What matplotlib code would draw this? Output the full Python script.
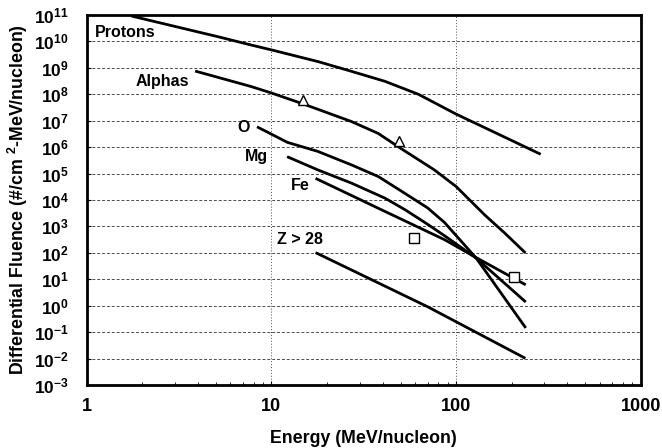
import matplotlib
matplotlib.use("Agg")
import matplotlib.pyplot as plt
import numpy as np

plt.rcParams['font.family'] = ['Liberation Sans', 'DejaVu Sans']
plt.rcParams['font.weight'] = 'bold'
plt.rcParams['mathtext.fontset'] = 'custom'
plt.rcParams['mathtext.rm'] = 'Liberation Sans:bold'
plt.rcParams['mathtext.bf'] = 'Liberation Sans:bold'
plt.rcParams['mathtext.it'] = 'Liberation Sans:bold'

# courbes : log10(energie), log10(fluence)
protons_logE = [0.243, 0.71, 0.887, 1.0, 1.251, 1.433, 1.615, 1.796, 2.0, 2.142, 2.458]
protons_logF = [10.96, 10.18, 9.87, 9.68, 9.24, 8.87, 8.49, 8.0, 7.25, 6.78, 5.73]

alphas_logE = [0.587, 0.887, 1.0, 1.178, 1.433, 1.578, 1.701, 1.882, 2.0, 2.154, 2.263, 2.375]
alphas_logF = [8.88, 8.30, 8.05, 7.62, 6.97, 6.52, 5.95, 5.14, 4.51, 3.44, 2.75, 2.0]

oxy_logE = [0.922, 1.087, 1.251, 1.433, 1.578, 1.705, 1.846, 1.937, 2.109, 2.377]
oxy_logF = [6.77, 6.18, 5.84, 5.33, 4.89, 4.33, 3.70, 3.15, 1.80, -0.84]

mg_logE = [1.085, 1.251, 1.433, 1.615, 1.724, 1.846, 1.937, 2.109, 2.377]
mg_logF = [5.64, 5.14, 4.64, 4.07, 3.63, 3.08, 2.65, 1.80, 0.14]

fe_logE = [1.239, 1.587, 1.937, 2.109, 2.377]
fe_logF = [4.82, 3.66, 2.50, 1.82, 0.79]

z28_logE = [1.239, 1.846, 2.375]
z28_logF = [2.01, -0.04, -1.99]

# points de mesure
tri_logE = [1.169, 1.693]
tri_logF = [7.79, 6.24]
sq_logE = [1.773, 2.313]
sq_logF = [2.55, 1.10]

labels = ['Protons', 'Alphas', 'O', 'Mg', 'Fe', 'Z > 28']
label_logE = [0.207, 0.408, 0.848, 0.917, 1.158, 1.154]
label_logF = [10.345, 8.476, 6.725, 5.64, 4.54, 2.49]

x_ticks = [1, 10, 100, 1000]
y_exps = list(range(-3, 12))

fig = plt.figure(figsize=(6.62, 4.48), dpi=100)
ax = fig.add_axes([0.131, 0.1406, 0.837, 0.8259])

courbes = [(protons_logE, protons_logF), (alphas_logE, alphas_logF),
           (oxy_logE, oxy_logF), (mg_logE, mg_logF),
           (fe_logE, fe_logF), (z28_logE, z28_logF)]
for lx, ly in courbes:
    ax.plot(10 ** np.array(lx), 10 ** np.array(ly), color='black', lw=2.0,
            solid_capstyle='butt', solid_joinstyle='round', zorder=3)

ax.plot(10 ** np.array(tri_logE), 10 ** np.array(tri_logF), linestyle='none',
        marker='^', markersize=7.5, markerfacecolor='white',
        markeredgecolor='black', markeredgewidth=1.0, zorder=4)
ax.plot(10 ** np.array(sq_logE), 10 ** np.array(sq_logF), linestyle='none',
        marker='s', markersize=7, markerfacecolor='white',
        markeredgecolor='black', markeredgewidth=1.0, zorder=4)

for txt, lx, ly in zip(labels, label_logE, label_logF):
    ax.text(10 ** lx, 10 ** ly, txt, ha='center', va='center',
            fontsize=11.5, fontweight='bold', zorder=5)

ax.set_xscale('log')
ax.set_yscale('log')
ax.set_xlim(1, 1000)
ax.set_ylim(1e-3, 1e11)

ax.set_xticks(x_ticks)
ax.set_xticklabels([str(v) for v in x_ticks], fontsize=13, fontweight='bold')
ax.set_yticks([10.0 ** e for e in y_exps])
ax.set_yticklabels([r'$\mathbf{10^{%d}}$' % e for e in y_exps], fontsize=12.5)
ax.yaxis.set_minor_locator(matplotlib.ticker.NullLocator())

ax.tick_params(axis='both', which='major', direction='in', length=3, width=0.8)
ax.tick_params(axis='y', which='major', pad=13)
ax.tick_params(axis='x', which='minor', direction='in', length=2.5, width=0.6)
ax.tick_params(axis='x', which='major', pad=9)

# quadrillage
ax.grid(True, axis='y', which='major', color='0.3', lw=0.7, linestyle=(0, (3, 2)))
ax.grid(True, axis='x', which='major', color='0.3', lw=0.7, linestyle=(0, (1, 2)))
ax.set_axisbelow(True)

for s in ax.spines.values():
    s.set_linewidth(2.0)

ax.set_xlabel('Energy (MeV/nucleon)', fontsize=12.75, fontweight='bold', labelpad=11)
ax.set_ylabel(r'Differential Fluence (#/cm $^{\mathbf{2}}$-MeV/nucleon)',
              fontsize=12.8, fontweight='bold', labelpad=3)

fig.savefig('out.png', dpi=100)
